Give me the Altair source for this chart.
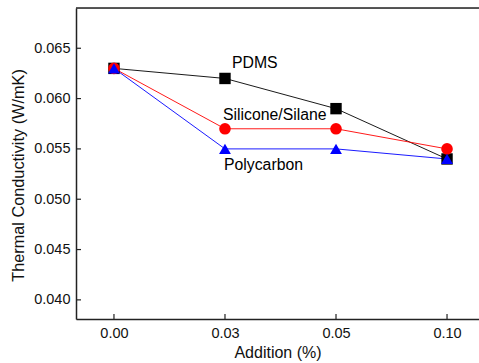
import altair as alt
import pandas as pd

categories = ["0.00", "0.03", "0.05", "0.10"]
series_names = ["PDMS", "Silicone/Silane", "Polycarbon"]
pdms = [0.063, 0.062, 0.059, 0.054]
silicone = [0.063, 0.057, 0.057, 0.055]
polycarbon = [0.063, 0.055, 0.055, 0.054]
y_ticks = [0.040, 0.045, 0.050, 0.055, 0.060, 0.065]

rows = []
for name, vals in zip(series_names, [pdms, silicone, polycarbon]):
    for i, v in enumerate(vals):
        rows.append({"series": name, "idx": i, "cat": categories[i], "value": v,
                     "series_order": series_names.index(name)})
df = pd.DataFrame(rows)

W, H = 403, 311
FONT = "Liberation Sans"
label_expr = "[" + ",".join("'%s'" % c for c in categories) + "][datum.value]"

xscale = alt.Scale(domain=[-0.342, 3.288], nice=False, zero=False)
yscale = alt.Scale(domain=[0.0381, 0.069], nice=False, zero=False)
color = alt.Color("series:N", scale=alt.Scale(domain=series_names, range=["#000000", "#ff0000", "#0000ff"]), legend=None)
shape = alt.Shape("series:N", scale=alt.Scale(domain=series_names, range=["square", "circle", "triangle-up"]), legend=None)
size = alt.Size("series:N", scale=alt.Scale(domain=series_names, range=[130, 140, 165]), legend=None)

base = alt.Chart(df)

x_axis = alt.Axis(title="Addition (%)", values=[0, 1, 2, 3], labelExpr=label_expr, grid=False,
                  ticks=False, labelPadding=7, domainColor="#222", domainWidth=1.5,
                  labelFont=FONT, labelFontSize=14.5, labelColor="#111", titleFont=FONT,
                  titleFontSize=16, titleFontWeight="normal", titleColor="#111", titlePadding=5)
y_axis = alt.Axis(title="Thermal Conductivity (W/mK)", values=y_ticks, format=".3f", grid=False,
                  ticks=False, labelPadding=6, domainColor="#222", domainWidth=1.5,
                  labelFont=FONT, labelFontSize=14.5, labelColor="#111", titleFont=FONT,
                  titleFontSize=16.3, titleFontWeight="normal", titleColor="#111", titlePadding=7,
                  titleY=167)

lines = base.mark_line(strokeWidth=0.9).encode(
    x=alt.X("idx:Q", scale=xscale, axis=x_axis),
    y=alt.Y("value:Q", scale=yscale, axis=y_axis),
    color=color,
    detail="series:N",
    order=alt.Order("idx:Q"),
)

points = base.mark_point(filled=True, opacity=1).encode(
    x=alt.X("idx:Q", scale=xscale),
    y=alt.Y("value:Q", scale=yscale),
    color=color,
    shape=shape,
    size=size,
    order=alt.Order("series_order:Q"),
)

top_axis = alt.Chart(pd.DataFrame({"idx": [0]})).mark_rule(color="#222", strokeWidth=1.5).encode(
    x=alt.value(0), x2=alt.value(W), y=alt.value(0)
)

ytick_df = pd.DataFrame({"value": y_ticks})
yticks = alt.Chart(ytick_df).mark_rule(color="#222", strokeWidth=1.2).encode(
    y=alt.Y("value:Q", scale=yscale), x=alt.value(0), x2=alt.value(5)
)
xtick_df = pd.DataFrame({"idx": list(range(len(categories)))})
xticks = alt.Chart(xtick_df).mark_rule(color="#222", strokeWidth=1.2).encode(
    x=alt.X("idx:Q", scale=xscale), y=alt.value(H), y2=alt.value(H - 5)
)

def label(name, dx, dy):
    return base.transform_filter(
        (alt.datum.series == name) & (alt.datum.idx == 1)
    ).mark_text(align="left", baseline="middle", dx=dx, dy=dy, font=FONT, fontSize=15.8, color="#000").encode(
        x=alt.X("idx:Q", scale=xscale),
        y=alt.Y("value:Q", scale=yscale),
        text="series:N",
    )

chart = alt.layer(
    lines, points, top_axis, yticks, xticks,
    label("PDMS", 7, -15), label("Silicone/Silane", -2, -14), label("Polycarbon", -1, 16),
).properties(
    width=W, height=H,
    autosize=alt.AutoSizeParams(type="none"),
    padding={"left": 76, "top": 8, "right": 0, "bottom": 44},
).configure_view(stroke=None).configure(background="white")

chart.save("out.html", embed_options={"renderer": "svg", "actions": False})
